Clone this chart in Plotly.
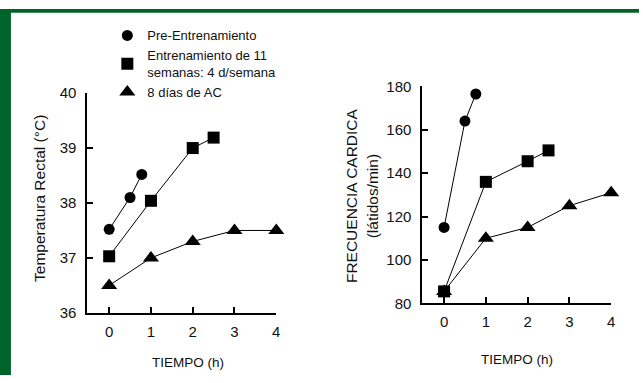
import plotly.graph_objects as go

W, H = 643, 383

# ---- data ----
tick_vals_x = [0, 1, 2, 3, 4]
tick_vals_temp = [36, 37, 38, 39, 40]
tick_vals_hr = [80, 100, 120, 140, 160, 180]

legend_names = ["Pre-Entrenamiento", "Entrenamiento de 11<br>semanas: 4 d/semana", "8 días de AC"]

# Rectal temperature (°C)
temp_pre_x = [0, 0.5, 0.78]
temp_pre_y = [37.52, 38.1, 38.52]
temp_train_x = [0, 1, 2, 2.5]
temp_train_y = [37.03, 38.04, 39.0, 39.19]
temp_ac_x = [0, 1, 2, 3, 4]
temp_ac_y = [36.5, 37.0, 37.3, 37.5, 37.5]

# Heart rate (latidos/min)
hr_pre_x = [0, 0.5, 0.76]
hr_pre_y = [115, 164, 176.5]
hr_train_x = [0, 1, 2, 2.5]
hr_train_y = [85.5, 136, 145.5, 150.5]
hr_ac_x = [0, 1, 2, 3, 4]
hr_ac_y = [85.5, 110, 115, 125, 131]

FONT = "Liberation Sans, Arial, Helvetica, sans-serif"
GREEN = "#006329"

def px_x(p):
    return p / W

def px_y(p):
    return 1 - p / H

symbols = ["circle", "square", "triangle-up"]
sizes = [11, 12, 14]

fig = go.Figure()

series = [
    ("x", "y", [(temp_ac_x, temp_ac_y, 2), (temp_train_x, temp_train_y, 1), (temp_pre_x, temp_pre_y, 0)]),
    ("x2", "y2", [(hr_ac_x, hr_ac_y, 2), (hr_train_x, hr_train_y, 1), (hr_pre_x, hr_pre_y, 0)]),
]
for xa, ya, lst in series:
    for xs, ys, k in lst:
        fig.add_trace(go.Scatter(
            x=xs, y=ys, xaxis=xa, yaxis=ya, mode="lines+markers",
            line=dict(color="black", width=1),
            marker=dict(symbol=symbols[k], size=sizes[k], color="black"),
            showlegend=False, cliponaxis=False, hoverinfo="skip"))

# legend-only entries
for k, name in enumerate(legend_names):
    fig.add_trace(go.Scatter(
        x=[None], y=[None], mode="markers", name=name,
        marker=dict(symbol=symbols[k], size=sizes[k], color="black"),
        showlegend=True))

axis_common = dict(showline=True, linewidth=2, linecolor="black", ticks="inside",
                   ticklen=6, tickwidth=2, tickcolor="black", showgrid=False,
                   zeroline=False, tickfont=dict(family=FONT, size=15, color="#111"))

fig.update_layout(
    width=W, height=H, autosize=False,
    margin=dict(l=0, r=0, t=0, b=0, pad=0),
    paper_bgcolor="white", plot_bgcolor="white",
    font=dict(family=FONT, color="#111"),
    xaxis=dict(domain=[px_x(88), px_x(278)], range=[-0.52, 4], tickvals=tick_vals_x,
               anchor="y", ticklabelstandoff=4, **axis_common),
    yaxis=dict(domain=[px_y(318), px_y(88)], range=[36, 40], tickvals=tick_vals_temp,
               anchor="x", ticklabelstandoff=6, **axis_common),
    xaxis2=dict(domain=[px_x(425), px_x(615)], range=[-0.52, 4], tickvals=tick_vals_x,
                anchor="y2", ticklabelstandoff=4, **axis_common),
    yaxis2=dict(domain=[px_y(308), px_y(81)], range=[80, 180], tickvals=tick_vals_hr,
                anchor="x2", ticklabelstandoff=6, **axis_common),
    legend=dict(x=px_x(108), y=px_y(12), xanchor="left", yanchor="top",
                font=dict(family=FONT, size=13, color="#111"),
                bgcolor="rgba(0,0,0,0)", traceorder="normal", tracegroupgap=0),
    shapes=[
        dict(type="rect", xref="paper", yref="paper", x0=0, x1=px_x(11), y0=0, y1=1,
             fillcolor=GREEN, line=dict(width=0), layer="below"),
        dict(type="rect", xref="paper", yref="paper", x0=0, x1=1, y0=px_y(4), y1=1,
             fillcolor=GREEN, line=dict(width=0), layer="below"),
    ],
    annotations=[
        dict(text="Temperatura Rectal (°C)", xref="paper", yref="paper",
             x=px_x(39), y=px_y(198), xanchor="center", yanchor="middle",
             textangle=-90, showarrow=False,
             font=dict(family=FONT, size=15.5, color="#111")),
        dict(text="FRECUENCIA CARDICA<br>(látidos/min)", xref="paper", yref="paper",
             x=px_x(364), y=px_y(195), xanchor="center", yanchor="middle",
             textangle=-90, showarrow=False,
             font=dict(family=FONT, size=15.5, color="#111")),
        dict(text="TIEMPO (h)", xref="paper", yref="paper",
             x=px_x(189), y=px_y(370), xanchor="center", yanchor="middle", showarrow=False,
             font=dict(family=FONT, size=13.5, color="#111")),
        dict(text="TIEMPO (h)", xref="paper", yref="paper",
             x=px_x(520), y=px_y(367), xanchor="center", yanchor="middle", showarrow=False,
             font=dict(family=FONT, size=13.5, color="#111")),
    ],
)

fig.write_html(
    "out.html",
    config={"displayModeBar": False},
    post_script="document.body.style.margin='0';document.body.style.padding='0';"
                "document.body.style.overflow='hidden';",
)
